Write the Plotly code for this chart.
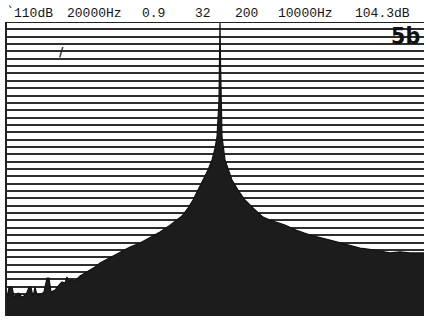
import plotly.graph_objects as go

# Spectrum envelope (frequency in Hz, level in dB)
freq_hz = [0, 100, 240, 340, 530, 720, 910, 1055, 1151, 1247, 1343, 1439, 1583,
           1775, 1918, 2014, 2110, 2302, 2542, 2638, 2782, 2878, 2974, 3117, 3261,
           3357, 3501, 3741, 3981, 4220, 4460, 4940, 5420, 5899, 6379, 6858, 7338,
           7817, 8153, 8393, 8681, 8921, 9160, 9400, 9640, 9832, 9976, 10072, 10120,
           10168, 10192, 10215, 10240, 10264, 10312, 10456, 10647, 10791, 11079,
           11414, 11798, 12278, 12613, 13333, 13860, 14532, 15491, 16210, 16930,
           17649, 18369, 18848, 19328, 20000]
level_db = [6.7, 10.8, 10.8, 7.1, 8.6, 7.1, 7.9, 10.8, 10.8, 7.1, 10.8, 7.9, 7.9,
            9.0, 14.2, 14.2, 9.0, 9.7, 12.0, 12.7, 12.3, 14.6, 13.1, 13.5, 13.1,
            13.8, 15.0, 16.1, 17.2, 18.3, 19.8, 21.7, 23.9, 25.8, 27.3, 29.2, 31.4,
            34.0, 35.9, 37.4, 40.4, 43.4, 47.1, 50.9, 54.6, 58.4, 62.8, 67.0, 73.3,
            80.8, 95.8, 110.0, 95.8, 80.8, 67.0, 58.4, 53.9, 50.9, 47.1,
            43.4, 40.4, 37.0, 35.9, 34.0, 32.2, 30.3, 28.4, 26.9, 25.4,
            24.7, 23.6, 24.0, 23.6, 23.6]

header_labels = ["110dB", "20000Hz", "0.9", "32", "200", "10000Hz", "104.3dB"]
header_pos = [0.012, 0.139, 0.319, 0.446, 0.542, 0.645, 0.830]

fig = go.Figure()
fig.add_trace(go.Scatter(
    x=freq_hz, y=level_db, mode="lines", fill="tozeroy",
    line=dict(color="#111111", width=1.2, shape="linear"),
    fillcolor="#1c1c1c", hoverinfo="skip", showlegend=False))

ink = "#2e2e2e"
fig.update_layout(
    width=426, height=320,
    margin=dict(l=7, r=2, t=22, b=4),
    paper_bgcolor="white", plot_bgcolor="white",
    xaxis=dict(range=[0, 20000], showgrid=False, zeroline=False,
               showticklabels=False, ticks="", showline=False),
    yaxis=dict(range=[0, 110], tick0=0, dtick=2.75, showgrid=True,
               gridcolor=ink, gridwidth=1.8, zeroline=False,
               showticklabels=False, ticks="", showline=True,
               linecolor="#222222", linewidth=2),
)

# top frame line
fig.add_shape(type="line", xref="paper", yref="y", x0=0, x1=1, y0=110, y1=110,
              line=dict(color="#222222", width=2))
# gap in the grid near the top (lines missing on the left)
fig.add_shape(type="rect", xref="paper", yref="y", x0=0.004, x1=1, y0=100.3,
              y1=106.2, fillcolor="white", line=dict(width=0), layer="between")
fig.add_shape(type="line", xref="paper", yref="y", x0=0.727, x1=0.88, y0=101.75,
              y1=101.75, line=dict(color="#666666", width=1.5, dash="dash"),
              layer="between")

for lab, px in zip(header_labels, header_pos):
    fig.add_annotation(text=lab, xref="paper", yref="paper", x=px, y=1.03,
                       xanchor="left", yanchor="middle", showarrow=False,
                       font=dict(family="Liberation Mono", size=13, color="#151515"))

fig.add_annotation(text="<b>5b</b>", xref="paper", yref="paper", x=0.955, y=0.952,
                   xanchor="center", yanchor="middle", showarrow=False,
                   font=dict(family="Liberation Sans Narrow, DejaVu Sans Condensed",
                             size=23, color="#111111"))
fig.add_annotation(text="<b>/</b>", xref="paper", yref="paper", x=0.12, y=0.93,
                   showarrow=False, font=dict(family="DejaVu Sans", size=12, color="#222"))
fig.add_annotation(text="`", xref="paper", yref="paper", x=-0.005, y=1.065,
                   showarrow=False, font=dict(family="DejaVu Sans Mono", size=12, color="#222"))

fig.write_html("out.html")
